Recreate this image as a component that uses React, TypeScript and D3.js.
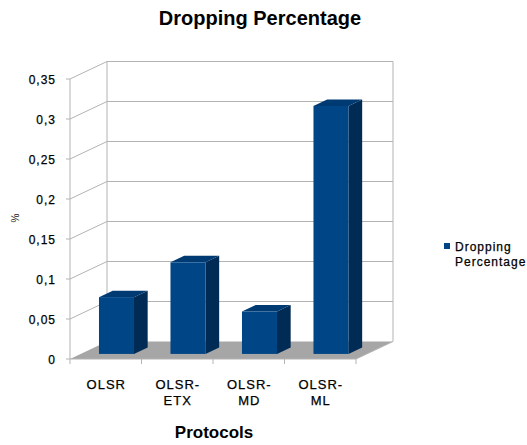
import React from "react";
import * as d3 from "d3";

const categories = ["OLSR", "OLSR-ETX", "OLSR-MD", "OLSR-ML"];
const categoryLines = [["OLSR"], ["OLSR-", "ETX"], ["OLSR-", "MD"], ["OLSR-", "ML"]];
const values = [0.071, 0.1145, 0.053, 0.31];
const yTicks = [0, 0.05, 0.1, 0.15, 0.2, 0.25, 0.3, 0.35];
const yTickLabels = ["0", "0,05", "0,1", "0,15", "0,2", "0,25", "0,3", "0,35"];
const seriesName = ["Dropping", "Percentage"];

const W = 527, H = 445;
const DX = 37, DY = -17.5; // depth offset
const front = { left: 70, right: 356, top: 79, bottom: 359 };

export default function App() {
  const y = d3.scaleLinear().domain([0, 0.35]).range([front.bottom, front.top]);
  const x = d3.scaleBand<string>().domain(categories).range([front.left, front.right]).padding(0);
  const bw = x.bandwidth();
  const barW = 35;
  const z0 = 0.29, z1 = 0.66; // bar depth fractions
  const font = "'Liberation Sans', Arial, sans-serif";
  const grid = "#b3b3b3";
  const pts = (a: number[][]) => a.map((p) => p.join(",")).join(" ");
  const txt = { stroke: "#000", strokeWidth: 0.25 };

  return (
    <svg width={W} height={H} style={{ position: "absolute", left: 0, top: 0, background: "#fff" }}>
      <text x={260} y={25} textAnchor="middle" fontFamily={font} fontWeight="bold" fontSize={20} fill="#000">
        Dropping Percentage
      </text>
      {/* floor */}
      <polygon
        points={pts([
          [front.left, front.bottom],
          [front.right, front.bottom],
          [front.right + DX, front.bottom + DY],
          [front.left + DX, front.bottom + DY],
        ])}
        fill="#a6a6a6"
      />
      {/* walls grid */}
      {yTicks.map((t, i) => (
        <g key={i}>
          {i > 0 && (
            <polyline
              points={pts([
                [front.left, y(t)],
                [front.left + DX, y(t) + DY],
                [front.right + DX, y(t) + DY],
              ])}
              fill="none"
              stroke={grid}
              strokeWidth={1}
            />
          )}
          <line x1={front.left - 4} x2={front.left} y1={y(t)} y2={y(t)} stroke={grid} />
          <text
            x={56}
            y={y(t) + 4.5}
            textAnchor="end"
            fontFamily={font}
            fontSize={12}
            letterSpacing={1}
            fill="#000"
            {...txt}
          >
            {yTickLabels[i]}
          </text>
        </g>
      ))}
      <line x1={front.left} x2={front.left} y1={y(0.35)} y2={front.bottom} stroke={grid} />
      <line x1={front.left + DX} x2={front.left + DX} y1={y(0.35) + DY} y2={front.bottom + DY} stroke={grid} />
      <line x1={front.right + DX} x2={front.right + DX} y1={y(0.35) + DY} y2={front.bottom + DY} stroke={grid} />
      <line x1={front.left} x2={front.right} y1={front.bottom} y2={front.bottom} stroke={grid} />
      <line x1={front.right} x2={front.right + DX} y1={front.bottom} y2={front.bottom + DY} stroke={grid} />
      {categories.concat(["_end"]).map((c, i) => {
        const xx = front.left + i * bw;
        return <line key={c} x1={xx} x2={xx} y1={front.bottom} y2={front.bottom + 5} stroke={grid} />;
      })}
      {/* bars */}
      {categories.map((c, i) => {
        const bx = (x(c) as number) + (bw - barW) / 2 + z0 * DX;
        const by0 = front.bottom + z0 * DY;
        const yt = y(values[i]) + z0 * DY;
        const ddx = (z1 - z0) * DX, ddy = (z1 - z0) * DY;
        return (
          <g key={c}>
            <polygon
              points={pts([
                [bx + barW, by0],
                [bx + barW + ddx, by0 + ddy],
                [bx + barW + ddx, yt + ddy],
                [bx + barW, yt],
              ])}
              fill="#002b55"
            />
            <polygon
              points={pts([
                [bx, yt],
                [bx + ddx, yt + ddy],
                [bx + barW + ddx, yt + ddy],
                [bx + barW, yt],
              ])}
              fill="#003a72"
            />
            <rect x={bx} y={yt} width={barW} height={by0 - yt} fill="#004586" />
          </g>
        );
      })}
      {/* category labels */}
      {categories.map((c, i) => {
        const cx = (x(c) as number) + bw / 2;
        return (
          <text key={c} textAnchor="middle" fontFamily={font} fontSize={13} letterSpacing={1} fill="#000" {...txt}>
            {categoryLines[i].map((l, j) => (
              <tspan key={j} x={cx + 0.5} y={389 + j * 16}>
                {l}
              </tspan>
            ))}
          </text>
        );
      })}
      <text x={214} y={438} textAnchor="middle" fontFamily={font} fontWeight="bold" fontSize={17} fill="#000">
        Protocols
      </text>
      <text
        transform={`translate(19,218) rotate(-90)`}
        textAnchor="middle"
        fontFamily={font}
        fontSize={10}
        fill="#222"
      >
        %
      </text>
      {/* legend */}
      <rect x={444} y={243} width={6} height={6} fill="#004586" />
      <text fontFamily={font} fontSize={12} letterSpacing={1} fill="#000" {...txt}>
        <tspan x={455} y={251}>{seriesName[0]}</tspan>
        <tspan x={455} y={266}>{seriesName[1]}</tspan>
      </text>
    </svg>
  );
}
